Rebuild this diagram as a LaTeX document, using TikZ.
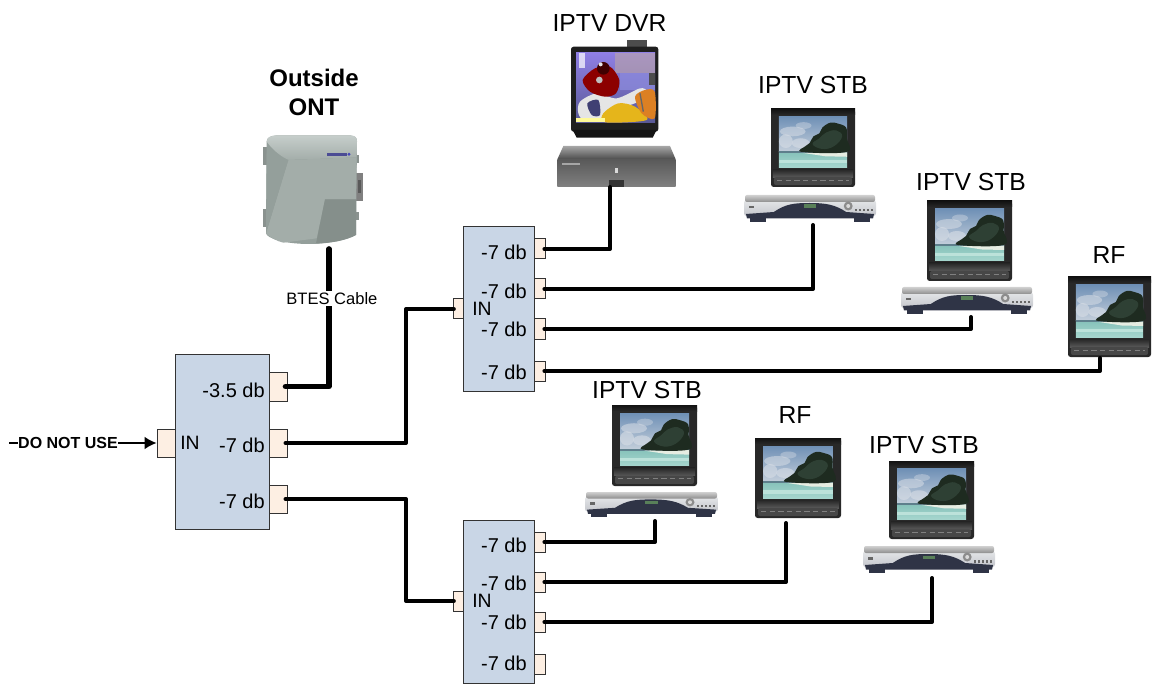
\documentclass[tikz,border=0pt]{standalone}
\usepackage{fontspec}
\setmainfont{Liberation Sans}
\usetikzlibrary{fit,arrows.meta,calc}
\definecolor{splitfill}{HTML}{C9D6E6}
\definecolor{portfill}{HTML}{FDEFE3}
\definecolor{edgecol}{HTML}{333333}
\definecolor{bezel}{HTML}{282828}
\definecolor{skytop}{HTML}{6F90B6}
\definecolor{skylow}{HTML}{C4CFDB}
\definecolor{cloud}{HTML}{D8DEE6}
\definecolor{seatop}{HTML}{86C2BA}
\definecolor{sealow}{HTML}{A6D6CE}
\definecolor{seaband}{HTML}{BCE2DA}
\definecolor{horizon}{HTML}{5E7F8C}
\definecolor{sand}{HTML}{E6EDE2}
\definecolor{isledark}{HTML}{1E2B20}
\definecolor{islegreen}{HTML}{33463A}
\definecolor{stbnavy}{HTML}{2F3446}
\definecolor{stbtopa}{HTML}{D0D0D0}
\definecolor{stbtopb}{HTML}{8E8E8E}
\definecolor{stbbody}{HTML}{E4E6E8}
\definecolor{stbbodyb}{HTML}{C4C6CC}
\definecolor{ontlight}{HTML}{C6CECB}
\definecolor{ontmid}{HTML}{A3ADA9}
\definecolor{ontbody}{HTML}{949F9B}
\definecolor{ontpanel}{HTML}{858F8B}
\definecolor{ontclip}{HTML}{8A928F}
\tikzset{
  splitbox/.style={draw=edgecol,fill=splitfill,line width=.75pt,inner sep=0pt},
  portbox/.style={draw=edgecol,fill=portfill,line width=.75pt,inner sep=0pt},
  devbox/.style={inner sep=0pt},
  wire/.style={draw=black,line width=3pt,line cap=round,line join=round},
  heavywire/.style={draw=black,line width=4.2pt,line cap=round,line join=round},
  feed/.style={draw=black,line width=.9pt,-{Latex[length=9pt,width=9.5pt]}},
  dblabel/.style={font=\fontsize{15}{18}\selectfont,anchor=east,inner sep=0pt},
  inlabel/.style={font=\fontsize{14.5}{18}\selectfont,anchor=west,inner sep=0pt},
  devlabel/.style={font=\fontsize{18.5}{22}\selectfont,inner sep=0pt},
}
% a television showing the beach picture
\newcommand{\beachtv}[5]{%
  \node[devbox,fit={(#2,#3) (#2+#4,#3+#5)}] (#1) {};
  \begin{scope}[shift={(#2,#3)},xscale=#4/85,yscale=#5/80]
    \fill[bezel,rounded corners=2pt] (0,0) rectangle (85,80);
    \shade[top color=black!55!bezel,bottom color=bezel] (0,0) rectangle (85,6);
    \shade[top color=black!85,bottom color=black!65] (2,62) rectangle (83,70);
    \fill[black!72,rounded corners=1.5pt] (3,70) rectangle (82,78);
    \draw[black!50,line width=.7pt,dash pattern=on 4pt off 2.5pt] (6,73) -- (79,73);
    \shade[top color=skytop,bottom color=skylow] (8,8) rectangle (77,44);
    \fill[cloud,opacity=.55] (22,23) ellipse (13 and 5);
    \fill[cloud,opacity=.4] (33,17) ellipse (8 and 3.5);
    \fill[cloud,opacity=.6] (15,33) ellipse (7 and 7);
    \fill[cloud,opacity=.6] (30,35) ellipse (9 and 5);
    \shade[top color=seatop,bottom color=sealow] (8,44) rectangle (77,60);
    \fill[seaband] (8,52) rectangle (77,55.5);
    \fill[horizon] (8,43.4) rectangle (77,45);
    \fill[sand] (32,45) -- (77,44.5) -- (77,49) -- (55,48.5) -- cycle;
    \fill[isledark] plot[smooth cycle,tension=.6] coordinates {(31,44) (35,38) (39,35) (43,28) (49,25) (52,19) (60,14) (68,15) (76,19) (76.7,30) (76.7,44)};
    \fill[islegreen,opacity=.8] plot[smooth cycle,tension=.7] coordinates {(42,36) (49,30) (56,24) (66,22) (72,28) (64,38) (52,41)};
  \end{scope}
}
% the silver set-top box
\newcommand{\stbox}[5]{%
  \node[devbox,fit={(#2,#3) (#2+#4,#3+#5)}] (#1) {};
  \begin{scope}[shift={(#2,#3)},xscale=#4/133,yscale=#5/28]
    \fill[stbnavy] (6,22) rectangle (22,27);
    \fill[stbnavy] (111,22) rectangle (127,27);
    \shade[top color=stbbody,bottom color=stbbodyb,rounded corners=2pt] (0,5) rectangle (133,21);
    \shade[top color=stbtopa,bottom color=stbtopb,rounded corners=1.5pt] (1,0) rectangle (132,7);
    \fill[stbnavy] (2,19) -- (30,17) .. controls (42,9) and (50,8) .. (66,8) .. controls (84,8) and (92,10) .. (103,17) -- (131,19) -- (130,23.5) -- (3,23.5) -- cycle;
    \fill[black!50!green!30!gray] (60,9.5) rectangle (73,13);
    \fill[black!45] (105,11) circle (4.5);
    \fill[black!15] (105,11) circle (2);
    \foreach \u in {112,116,120,124,128}{\fill[black!60] (\u,14) rectangle (\u+2,16.5);}
    \fill[black!60] (5,11) rectangle (10,13.5);
  \end{scope}
}
\begin{document}
\begin{tikzpicture}[x=.75pt,y=-.75pt]
\useasboundingbox (0,0) rectangle (1153,684);

% ---------- Outside ONT
\node[devbox,fit={(265,132) (358,243)}] (ont) {};
\begin{scope}[shift={(210,60)},scale=1/3]
  \fill[ontclip] (160,262) rectangle (170,316);
  \fill[ontclip] (160,448) rectangle (170,502);
  \fill[black!50] (438,338) rectangle (459,422);
  \fill[black!65] (443,360) rectangle (453,400);
  \fill[ontclip] (438,285) rectangle (446,310);
  \fill[ontclip] (438,455) rectangle (446,480);
  \fill[ontbody] (170,245) .. controls (171,232) and (180,228) .. (200,226) -- (420,226) .. controls (436,228) and (441,232) .. (441,245) -- (438,525) .. controls (410,540) and (370,550) .. (300,552) .. controls (220,552) and (172,535) .. (168,520) -- cycle;
  \shade[top color=ontlight,bottom color=ontmid] (170,245) .. controls (171,232) and (180,228) .. (200,226) -- (420,226) .. controls (436,228) and (441,232) .. (441,245) -- (440,292) -- (235,300) .. controls (205,285) and (185,265) .. (170,245) -- cycle;
  \fill[ontmid] (235,300) -- (440,292) -- (438,418) -- (345,418) -- (320,535) -- (220,548) .. controls (200,544) and (178,530) .. (168,520) -- cycle;
  \fill[ontbody] (235,300) -- (168,520) -- (170,280) -- cycle;
  \fill[ontpanel] (345,418) -- (438,418) -- (438,525) .. controls (410,540) and (370,548) .. (318,551) -- cycle;
  \fill[black!30!blue!40!gray] (350,278) rectangle (412,287);
  \fill[blue!45!gray] (417,283) circle (5);
\end{scope}
\node[font=\fontsize{18}{21}\bfseries\selectfont,align=center,inner sep=0pt] (ontlab) at (314,92.5) {Outside\\[.05em]ONT};

% ---------- IPTV DVR
\node[devbox,fit={(557,42) (676,187)}] (dvr) {};
\begin{scope}[shift={(560,35)},scale=1/3]
  \fill[black!70] (200,15) rectangle (262,36);
  \fill[black!88,rounded corners=2pt] (33,35) rectangle (295,290);
  \fill[black!92] (38,285) -- (290,285) -- (278,308) -- (50,308) -- cycle;
  \shade[top color=black!35!red!20!blue!50!white,bottom color=black!20!blue!30!gray] (48,52) rectangle (285,262);
  \fill[red!25!black!35,opacity=.6] (165,55) rectangle (285,115);
  \fill[black!30!blue!45!white,opacity=.7] (180,115) rectangle (285,165);
  \fill[white,opacity=.7] (58,55) rectangle (74,100);
  \fill[black!10] plot[smooth cycle] coordinates {(60,200) (110,175) (170,190) (240,160) (260,170) (235,200) (170,225) (130,255) (75,258) (55,235)};
  \fill[black!60!blue!50!gray] plot[smooth cycle] coordinates {(82,205) (115,195) (120,240) (95,240)};
  \fill[red!55!black] plot[smooth cycle] coordinates {(68,135) (105,100) (150,95) (178,135) (168,175) (135,185) (90,170)};
  \fill[black!25!white] (118,135) circle (10);
  \fill[black!75!red] (130,100) circle (19);
  \fill[black!10] (122,88) circle (6);
  \fill[yellow!55!orange!90!black] plot[smooth cycle] coordinates {(130,235) (175,205) (225,215) (260,255) (135,262)};
  \fill[white!60!yellow] (48,250) rectangle (135,262);
  \fill[orange!45!brown] plot[smooth cycle] coordinates {(225,185) (255,165) (284,170) (284,250) (245,235)};
  \fill[black!70] (268,115) rectangle (284,150);
  \draw[black!60,line width=1pt] (240,175) -- (250,230);
\end{scope}
\begin{scope}[shift={(530,0)},scale=1/3]
  \shade[top color=black!35,bottom color=black!70] (100,438) -- (420,438) -- (437,478) -- (82,478) -- cycle;
  \shade[top color=black!65,bottom color=black!50] (82,478) rectangle (437,560);
  \fill[black!15] (254,503) rectangle (264,518);
  \fill[black!35] (95,490) rectangle (150,496);
  \fill[black!80] (238,540) rectangle (282,560);
\end{scope}
\node[devlabel] (dvrlab) at (609.5,23) {IPTV DVR};

% ---------- televisions and boxes
\beachtv{tva}{771}{109}{84}{78}
\stbox{stba}{744}{195}{132}{28}
\node[devlabel] (laba) at (813,85) {IPTV STB};

\beachtv{tvb}{927}{201}{85}{80}
\stbox{stbb}{901}{287}{132}{28}
\node[devlabel] (labb) at (971,182) {IPTV STB};

\beachtv{tvc}{1068}{277}{83}{80}
\node[devlabel] (labc) at (1109,255) {RF};

\beachtv{tvd}{612}{405}{85}{81}
\stbox{stbd}{585}{492}{133}{26}
\node[devlabel] (labd) at (647,390) {IPTV STB};

\beachtv{tve}{755}{438}{86}{80}
\node[devlabel] (labe) at (795,415) {RF};

\beachtv{tvf}{889}{461}{85}{78}
\stbox{stbf}{863}{546}{132}{28}
\node[devlabel] (labf) at (924,445) {IPTV STB};

% ---------- connection points on the devices
\coordinate (ontdown) at (329,249);
\coordinate (dvrdown) at (610,187);
\coordinate (stbadown) at (813,225);
\coordinate (stbbdown) at (971,317);
\coordinate (tvcdown) at (1100,358);
\coordinate (stbddown) at (655,521);
\coordinate (tvedown) at (786,523);
\coordinate (stbfdown) at (932,578);
\coordinate (busa) at (406,376);
\coordinate (donot) at (9,443);

% ---------- main splitter
\node[splitbox,fit={(175,354) (269,529)}] (main) {};
\node[portbox,fit={(269,372) (287,401)}] (mo) {};
\node[portbox,fit={(269,429) (287,457)}] (mt) {};
\node[portbox,fit={(269,485) (287,513)}] (mh) {};
\node[portbox,fit={(157,429) (175,457)}] (mi) {};
\node[dblabel] (mol) at (265,390) {-3.5 db};
\node[dblabel] (mtl) at (265,445) {-7 db};
\node[dblabel] (mhl) at (265,501) {-7 db};
\node[inlabel] (mil) at (180,443) {IN};

% ---------- upper splitter
\node[splitbox,fit={(463,227) (534,391)}] (up) {};
\node[portbox,fit={(534,239) (545,259)}] (ua) {};
\node[portbox,fit={(534,279) (545,299)}] (ub) {};
\node[portbox,fit={(534,319) (545,339)}] (uc) {};
\node[portbox,fit={(534,361) (545,381)}] (ud) {};
\node[portbox,fit={(453,299) (463,319)}] (ui) {};
\node[dblabel] (ual) at (527,252) {-7 db};
\node[dblabel] (ubl) at (527,291) {-7 db};
\node[dblabel] (ucl) at (527,329) {-7 db};
\node[dblabel] (udl) at (527,372) {-7 db};
\node[inlabel] (uil) at (472,309) {IN};

% ---------- lower splitter
\node[splitbox,fit={(463,520) (534,683)}] (lo) {};
\node[portbox,fit={(534,532) (545,552)}] (la) {};
\node[portbox,fit={(534,572) (545,592)}] (lb) {};
\node[portbox,fit={(534,612) (545,632)}] (lc) {};
\node[portbox,fit={(534,654) (545,674)}] (ld) {};
\node[portbox,fit={(453,591) (463,611)}] (li) {};
\node[dblabel] (lal) at (527,545) {-7 db};
\node[dblabel] (lbl) at (527,583) {-7 db};
\node[dblabel] (lcl) at (527,622) {-7 db};
\node[dblabel] (ldl) at (527,663) {-7 db};
\node[inlabel] (lil) at (472,601) {IN};

% ---------- connectors
\draw[heavywire] ([xshift=-1.5pt]mo.east) -| (ontdown)
  node[pos=.82,xshift=2.2pt,fill=white,inner sep=1pt,font=\fontsize{12.4}{14}\selectfont,text=black] (btes) {BTES Cable};
\draw[wire] ([xshift=-1.5pt]mt.east) -| (busa) |- ([xshift=1pt]ui.west);
\draw[wire] ([xshift=-1.5pt]mh.east) -| (busa |- li) -- ([xshift=1pt]li.west);
\draw[wire] ([xshift=-.8pt]ua.east) -| (dvrdown);
\draw[wire] ([xshift=-.8pt]ub.east) -| (stbadown);
\draw[wire] ([xshift=-.8pt]uc.east) -| (stbbdown);
\draw[wire] ([xshift=-.8pt]ud.east) -| (tvcdown);
\draw[wire] ([xshift=-.8pt]la.east) -| (stbddown);
\draw[wire] ([xshift=-.8pt]lb.east) -| (tvedown);
\draw[wire] ([xshift=-.8pt]lc.east) -| (stbfdown);
\draw[feed] (donot) -- (mi.west)
  node[pos=.40,fill=white,inner sep=0pt,font=\fontsize{12}{14}\bfseries\selectfont,text=black] (dnu) {DO NOT USE};
\end{tikzpicture}
\end{document}
